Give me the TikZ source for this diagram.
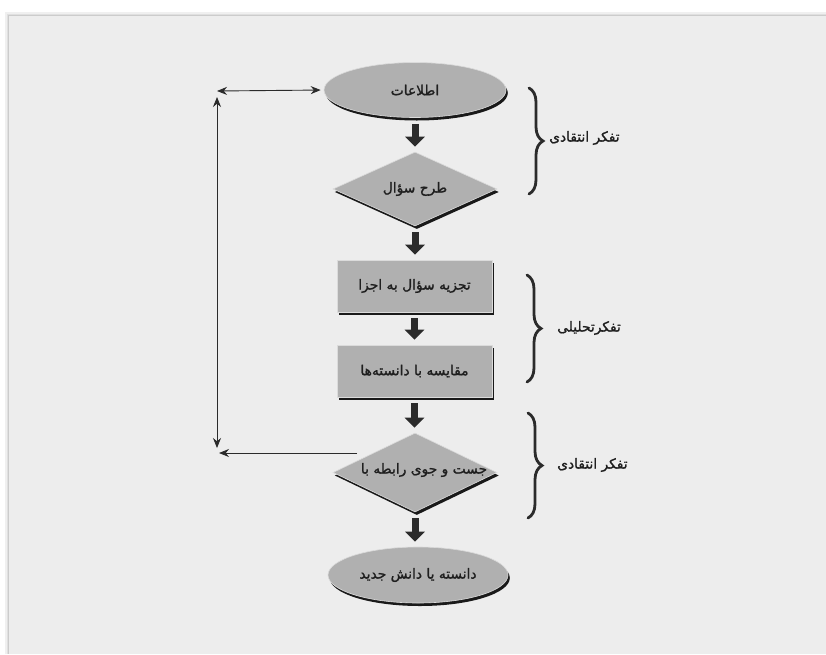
\documentclass[tikz,border=0pt]{standalone}
\usepackage{fontspec}
\newfontfamily\fa[Script=Arabic, FakeBold=1.4]{DejaVu Sans}
\TeXXeTstate=1
\usetikzlibrary{shapes.geometric,shadows,decorations.pathreplacing,arrows.meta}
\definecolor{panel}{HTML}{EDEDED}
\definecolor{shapefill}{HTML}{B0B0B0}
\definecolor{ink}{HTML}{2B2B2B}
\begin{document}
\begin{tikzpicture}[x=1pt,y=-1pt,
  shp/.style={fill=shapefill, draw=white!55!shapefill, line width=0.6pt,
    drop shadow={shadow xshift=1.8pt,shadow yshift=-3pt,fill=black!90,opacity=1},
    inner sep=0pt},
  ellip/.style={shp, ellipse, minimum width=182pt, minimum height=55pt},
  dia/.style={shp, diamond, minimum width=164pt, minimum height=74pt},
  box/.style={shp, rectangle, minimum width=155pt, minimum height=52pt},
  txt/.style={font=\fa\fontsize{13.8}{16}\selectfont, text=black!88, inner sep=0pt},
  fat/.style={draw=ink, line width=7pt, -{Triangle[width=19pt,length=10pt]},
    shorten <=6pt, shorten >=5pt},
  thin/.style={draw=ink, line width=0.9pt},
  brc/.style={draw=ink, line width=2.8pt, line cap=round,
    decorate, decoration={brace, amplitude=14pt}},
]
% background
\fill[white] (0,0) rectangle (826,654);
\fill[black!6] (5,12) rectangle (826,654);
\fill[black!12] (6.5,13.5) rectangle (826,654);
\fill[black!20] (7.5,14.5) rectangle (826,654);
\fill[panel] (8.5,15.5) rectangle (826,654);

% shapes
\node[ellip] (e1) at (415,90) {};
\node[dia]   (d1) at (415,189) {};
\node[box]   (r1) at (414.5,286) {};
\node[box]   (r2) at (414.5,371) {};
\node[dia, minimum height=79pt] (d2) at (415,472.5) {};
\node[ellip, minimum width=180pt, minimum height=56pt] (e2) at (418,575) {};

% texts
\node[txt] (t1) at (e1) {\beginR اطلاعات\endR};
\node[txt] (t2) at (d1) {\beginR طرح سؤال\endR};
\node[txt] (t3) at (r1) {\beginR تجزیه سؤال به اجزا\endR};
\node[txt] (t4) at (r2) {\beginR مقایسه با دانسته‌ها\endR};
\node[txt] (t5) at (424,470) {\beginR جست و جوی رابطه با\endR};
\node[txt] (t6) at (e2) {\beginR دانسته یا دانش جدید\endR};

% fat arrows
\draw[fat] (e1.south) -- (d1.north);
\draw[fat] (d1.south) -- (r1.north -| d1.south);
\draw[fat] (r1.south) -- (r2.north);
\draw[fat] (r2.south) -- (d2.north -| r2.south);
\draw[fat] (d2.south) -- (e2.north -| d2.south);

% feedback loop
\coordinate (tl) at (217,91);
\coordinate (vt) at (217,97);
\coordinate (vb) at (217,448);
\coordinate (bl) at (219,453);
\coordinate (bs) at (357,453);
\draw[thin, {Stealth[length=10pt,width=8pt]}-{Stealth[length=10pt,width=8pt]}, shorten >=3pt] (tl) -- (e1.west);
\draw[thin, {Stealth[length=10pt,width=8pt]}-{Stealth[length=10pt,width=8pt]}] (vt) -- (vb);
\draw[thin, -{Stealth[length=10pt,width=8pt]}] (bs) -- (bl);

% braces
\coordinate (b1t) at (529,88);
\coordinate (b1b) at (529,194);
\coordinate (b2t) at (527,275);
\coordinate (b2b) at (527,382);
\coordinate (b3t) at (528,413);
\coordinate (b3b) at (528,518);
\draw[brc] (b1t) -- (b1b);
\draw[brc] (b2t) -- (b2b);
\draw[brc] (b3t) -- (b3b);
\node[txt, anchor=west] (l1) at (549,138) {\beginR تفکر انتقادی\endR};
\node[txt, anchor=west] (l2) at (557,328) {\beginR تفکرتحلیلی\endR};
\node[txt, anchor=west] (l3) at (557,465) {\beginR تفکر انتقادی\endR};
\end{tikzpicture}
\end{document}
